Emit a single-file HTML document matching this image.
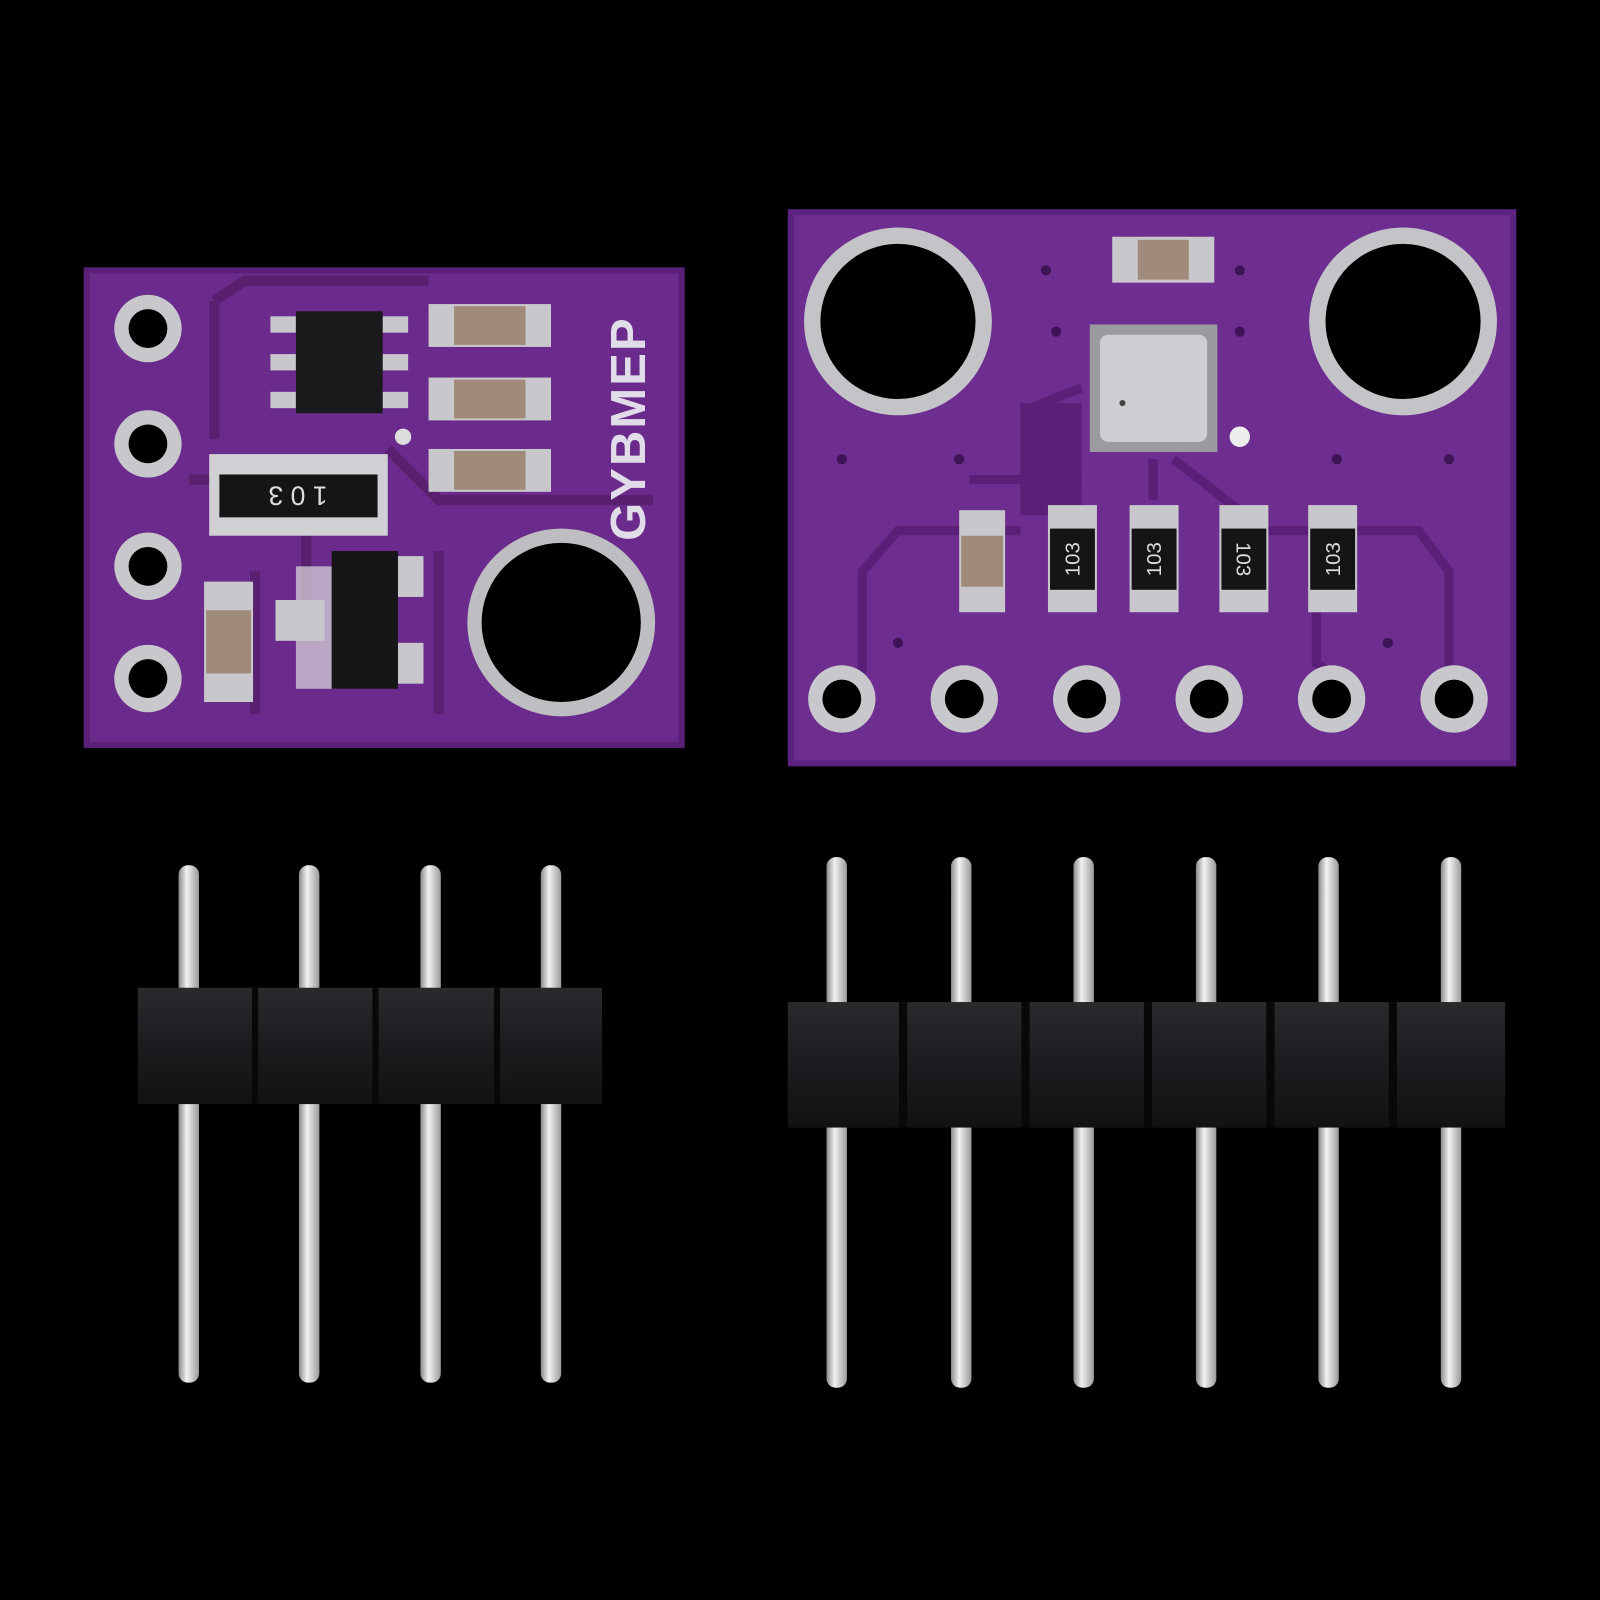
<!DOCTYPE html>
<html><head><meta charset="utf-8"><style>
html,body{margin:0;padding:0;background:#000;width:1600px;height:1600px;overflow:hidden}
svg{display:block}
</style></head><body>
<svg width="1600" height="1600" viewBox="0 0 1568 1568" xmlns="http://www.w3.org/2000/svg">
<defs>
<linearGradient id="pin" x1="0" x2="1"><stop offset="0" stop-color="#8a8a8a"/><stop offset=".4" stop-color="#f2f2f2"/><stop offset="1" stop-color="#9a9a9a"/></linearGradient>
<linearGradient id="hdr" x1="0" y1="0" x2="0" y2="1"><stop offset="0" stop-color="#2a2a2e"/><stop offset=".5" stop-color="#1c1c20"/><stop offset="1" stop-color="#121214"/></linearGradient>
</defs>
<rect width="1568" height="1568" fill="#000"/>

<!-- LEFT BOARD -->
<rect x="85" y="265" width="583" height="465" fill="#6b2b8c"/>
<rect x="85" y="265" width="583" height="465" fill="none" stroke="#5a2078" stroke-width="6"/>
<path d="M210 295 L240 275 L420 275 M210 295 L210 430 M185 470 L300 470 L300 610 M380 440 L430 490 L640 490 M430 540 L430 700 M250 560 L250 700" stroke="#58206f" stroke-width="10" fill="none"/>
<g fill="#c8c8cc">
<circle cx="145" cy="322" r="33"/><circle cx="145" cy="435" r="33"/><circle cx="145" cy="555" r="33"/><circle cx="145" cy="665" r="33"/>
</g>
<g fill="#000">
<circle cx="145" cy="322" r="19"/><circle cx="145" cy="435" r="19"/><circle cx="145" cy="555" r="19"/><circle cx="145" cy="665" r="19"/>
</g>
<circle cx="550" cy="610" r="92" fill="#bdbdc2"/><circle cx="550" cy="610" r="78" fill="#000"/>
<!-- IC top -->
<g fill="#c8c8cc"><rect x="265" y="310" width="25" height="16"/><rect x="265" y="347" width="25" height="16"/><rect x="265" y="384" width="25" height="16"/><rect x="375" y="310" width="25" height="16"/><rect x="375" y="347" width="25" height="16"/><rect x="375" y="384" width="25" height="16"/></g>
<rect x="290" y="305" width="85" height="100" fill="#1a1a1c"/>
<!-- caps top right -->
<g>
<rect x="420" y="298" width="120" height="42" fill="#c8c8cc"/><rect x="445" y="300" width="70" height="38" fill="#a08a7a"/>
<rect x="420" y="370" width="120" height="42" fill="#c8c8cc"/><rect x="445" y="372" width="70" height="38" fill="#a08a7a"/>
<rect x="420" y="440" width="120" height="42" fill="#c8c8cc"/><rect x="445" y="442" width="70" height="38" fill="#a08a7a"/>
</g>
<circle cx="395" cy="428" r="8" fill="#ddd"/>
<!-- resistor array -->
<rect x="205" y="445" width="175" height="80" fill="#d0d0d4"/>
<rect x="215" y="465" width="155" height="42" fill="#151517"/>
<text x="292" y="495" fill="#ddd" font-family="Liberation Sans, sans-serif" font-size="26" text-anchor="middle" transform="rotate(180 292 486)">1 0 3</text>
<!-- GYBMEP text -->
<text x="632" y="530" fill="#e0dce8" font-family="Liberation Sans, sans-serif" font-weight="bold" font-size="48" transform="rotate(-90 632 530)" letter-spacing="2">GYBMEP</text>
<!-- cap lower left -->
<rect x="200" y="570" width="48" height="118" fill="#c8c8cc"/><rect x="202" y="598" width="44" height="62" fill="#a08a7a"/>
<!-- regulator -->
<rect x="290" y="555" width="40" height="120" fill="#ddd" opacity=".7"/>
<rect x="270" y="588" width="48" height="40" fill="#c8c8cc"/>
<rect x="385" y="545" width="30" height="40" fill="#c8c8cc"/><rect x="385" y="630" width="30" height="40" fill="#c8c8cc"/>
<rect x="325" y="540" width="65" height="135" fill="#161618"/>

<!-- RIGHT BOARD -->
<rect x="775" y="208" width="708" height="540" fill="#6d2e90"/>
<rect x="775" y="208" width="708" height="540" fill="none" stroke="#5c2280" stroke-width="6"/>
<path d="M1010 440 L1010 400 L1060 380 M1130 450 L1130 490 M1150 450 L1240 520 L1390 520 L1420 560 L1420 660 M845 660 L845 560 L880 520 L1000 520 M1290 520 L1290 650 L1305 660 M950 470 L1060 470" stroke="#5a2078" stroke-width="9" fill="none"/>
<rect x="1000" y="395" width="60" height="110" fill="#5a2078"/>
<circle cx="880" cy="315" r="92" fill="#c4c4c8"/><circle cx="880" cy="315" r="76" fill="#000"/>
<circle cx="1375" cy="315" r="92" fill="#c4c4c8"/><circle cx="1375" cy="315" r="76" fill="#000"/>
<g fill="#c8c8cc">
<circle cx="825" cy="685" r="33"/><circle cx="945" cy="685" r="33"/><circle cx="1065" cy="685" r="33"/><circle cx="1185" cy="685" r="33"/><circle cx="1305" cy="685" r="33"/><circle cx="1425" cy="685" r="33"/>
</g>
<g fill="#000">
<circle cx="825" cy="685" r="19"/><circle cx="945" cy="685" r="19"/><circle cx="1065" cy="685" r="19"/><circle cx="1185" cy="685" r="19"/><circle cx="1305" cy="685" r="19"/><circle cx="1425" cy="685" r="19"/>
</g>
<!-- top cap -->
<rect x="1090" y="232" width="100" height="45" fill="#c8c8cc"/><rect x="1115" y="235" width="50" height="39" fill="#a08a7a"/>
<!-- sensor -->
<rect x="1068" y="318" width="125" height="125" fill="#9a9aa0"/>
<rect x="1078" y="328" width="105" height="105" rx="8" fill="#cfcfd3"/>
<circle cx="1100" cy="395" r="3" fill="#444"/>
<circle cx="1215" cy="428" r="10" fill="#eee"/>
<!-- small vias -->
<g fill="#3d1455"><circle cx="1025" cy="265" r="5"/><circle cx="1215" cy="265" r="5"/><circle cx="1035" cy="325" r="5"/><circle cx="1215" cy="325" r="5"/><circle cx="825" cy="450" r="5"/><circle cx="940" cy="450" r="5"/><circle cx="1420" cy="450" r="5"/><circle cx="1310" cy="450" r="5"/><circle cx="880" cy="630" r="5"/><circle cx="1360" cy="630" r="5"/></g>
<!-- lower components -->
<rect x="940" y="500" width="45" height="100" fill="#c8c8cc"/><rect x="942" y="525" width="41" height="50" fill="#a08a7a"/>
<g font-family="Liberation Sans, sans-serif" font-size="20" fill="#ddd" text-anchor="middle">
<rect x="1027" y="495" width="48" height="105" fill="#c8c8cc"/><rect x="1029" y="518" width="44" height="60" fill="#151517"/>
<text x="1051" y="555" transform="rotate(-90 1051 548)">103</text>
<rect x="1107" y="495" width="48" height="105" fill="#c8c8cc"/><rect x="1109" y="518" width="44" height="60" fill="#151517"/>
<text x="1131" y="555" transform="rotate(-90 1131 548)">103</text>
<rect x="1195" y="495" width="48" height="105" fill="#c8c8cc"/><rect x="1197" y="518" width="44" height="60" fill="#151517"/>
<text x="1219" y="555" transform="rotate(90 1219 548)">103</text>
<rect x="1282" y="495" width="48" height="105" fill="#c8c8cc"/><rect x="1284" y="518" width="44" height="60" fill="#151517"/>
<text x="1306" y="555" transform="rotate(-90 1306 548)">103</text>
</g>

<!-- LEFT HEADER -->
<g fill="url(#pin)">
<rect x="175" y="848" width="20" height="507" rx="9"/><rect x="293" y="848" width="20" height="507" rx="9"/><rect x="412" y="848" width="20" height="507" rx="9"/><rect x="530" y="848" width="20" height="507" rx="9"/>
</g>
<rect x="135" y="968" width="455" height="114" fill="url(#hdr)"/>
<g stroke="#080808" stroke-width="6"><line x1="250" y1="968" x2="250" y2="1082"/><line x1="368" y1="968" x2="368" y2="1082"/><line x1="487" y1="968" x2="487" y2="1082"/></g>

<!-- RIGHT HEADER -->
<g fill="url(#pin)">
<rect x="810" y="840" width="20" height="520" rx="9"/><rect x="932" y="840" width="20" height="520" rx="9"/><rect x="1052" y="840" width="20" height="520" rx="9"/><rect x="1172" y="840" width="20" height="520" rx="9"/><rect x="1292" y="840" width="20" height="520" rx="9"/><rect x="1412" y="840" width="20" height="520" rx="9"/>
</g>
<rect x="772" y="982" width="703" height="123" fill="url(#hdr)"/>
<g stroke="#080808" stroke-width="8"><line x1="885" y1="982" x2="885" y2="1105"/><line x1="1005" y1="982" x2="1005" y2="1105"/><line x1="1125" y1="982" x2="1125" y2="1105"/><line x1="1245" y1="982" x2="1245" y2="1105"/><line x1="1365" y1="982" x2="1365" y2="1105"/></g>
</svg>
</body></html>
